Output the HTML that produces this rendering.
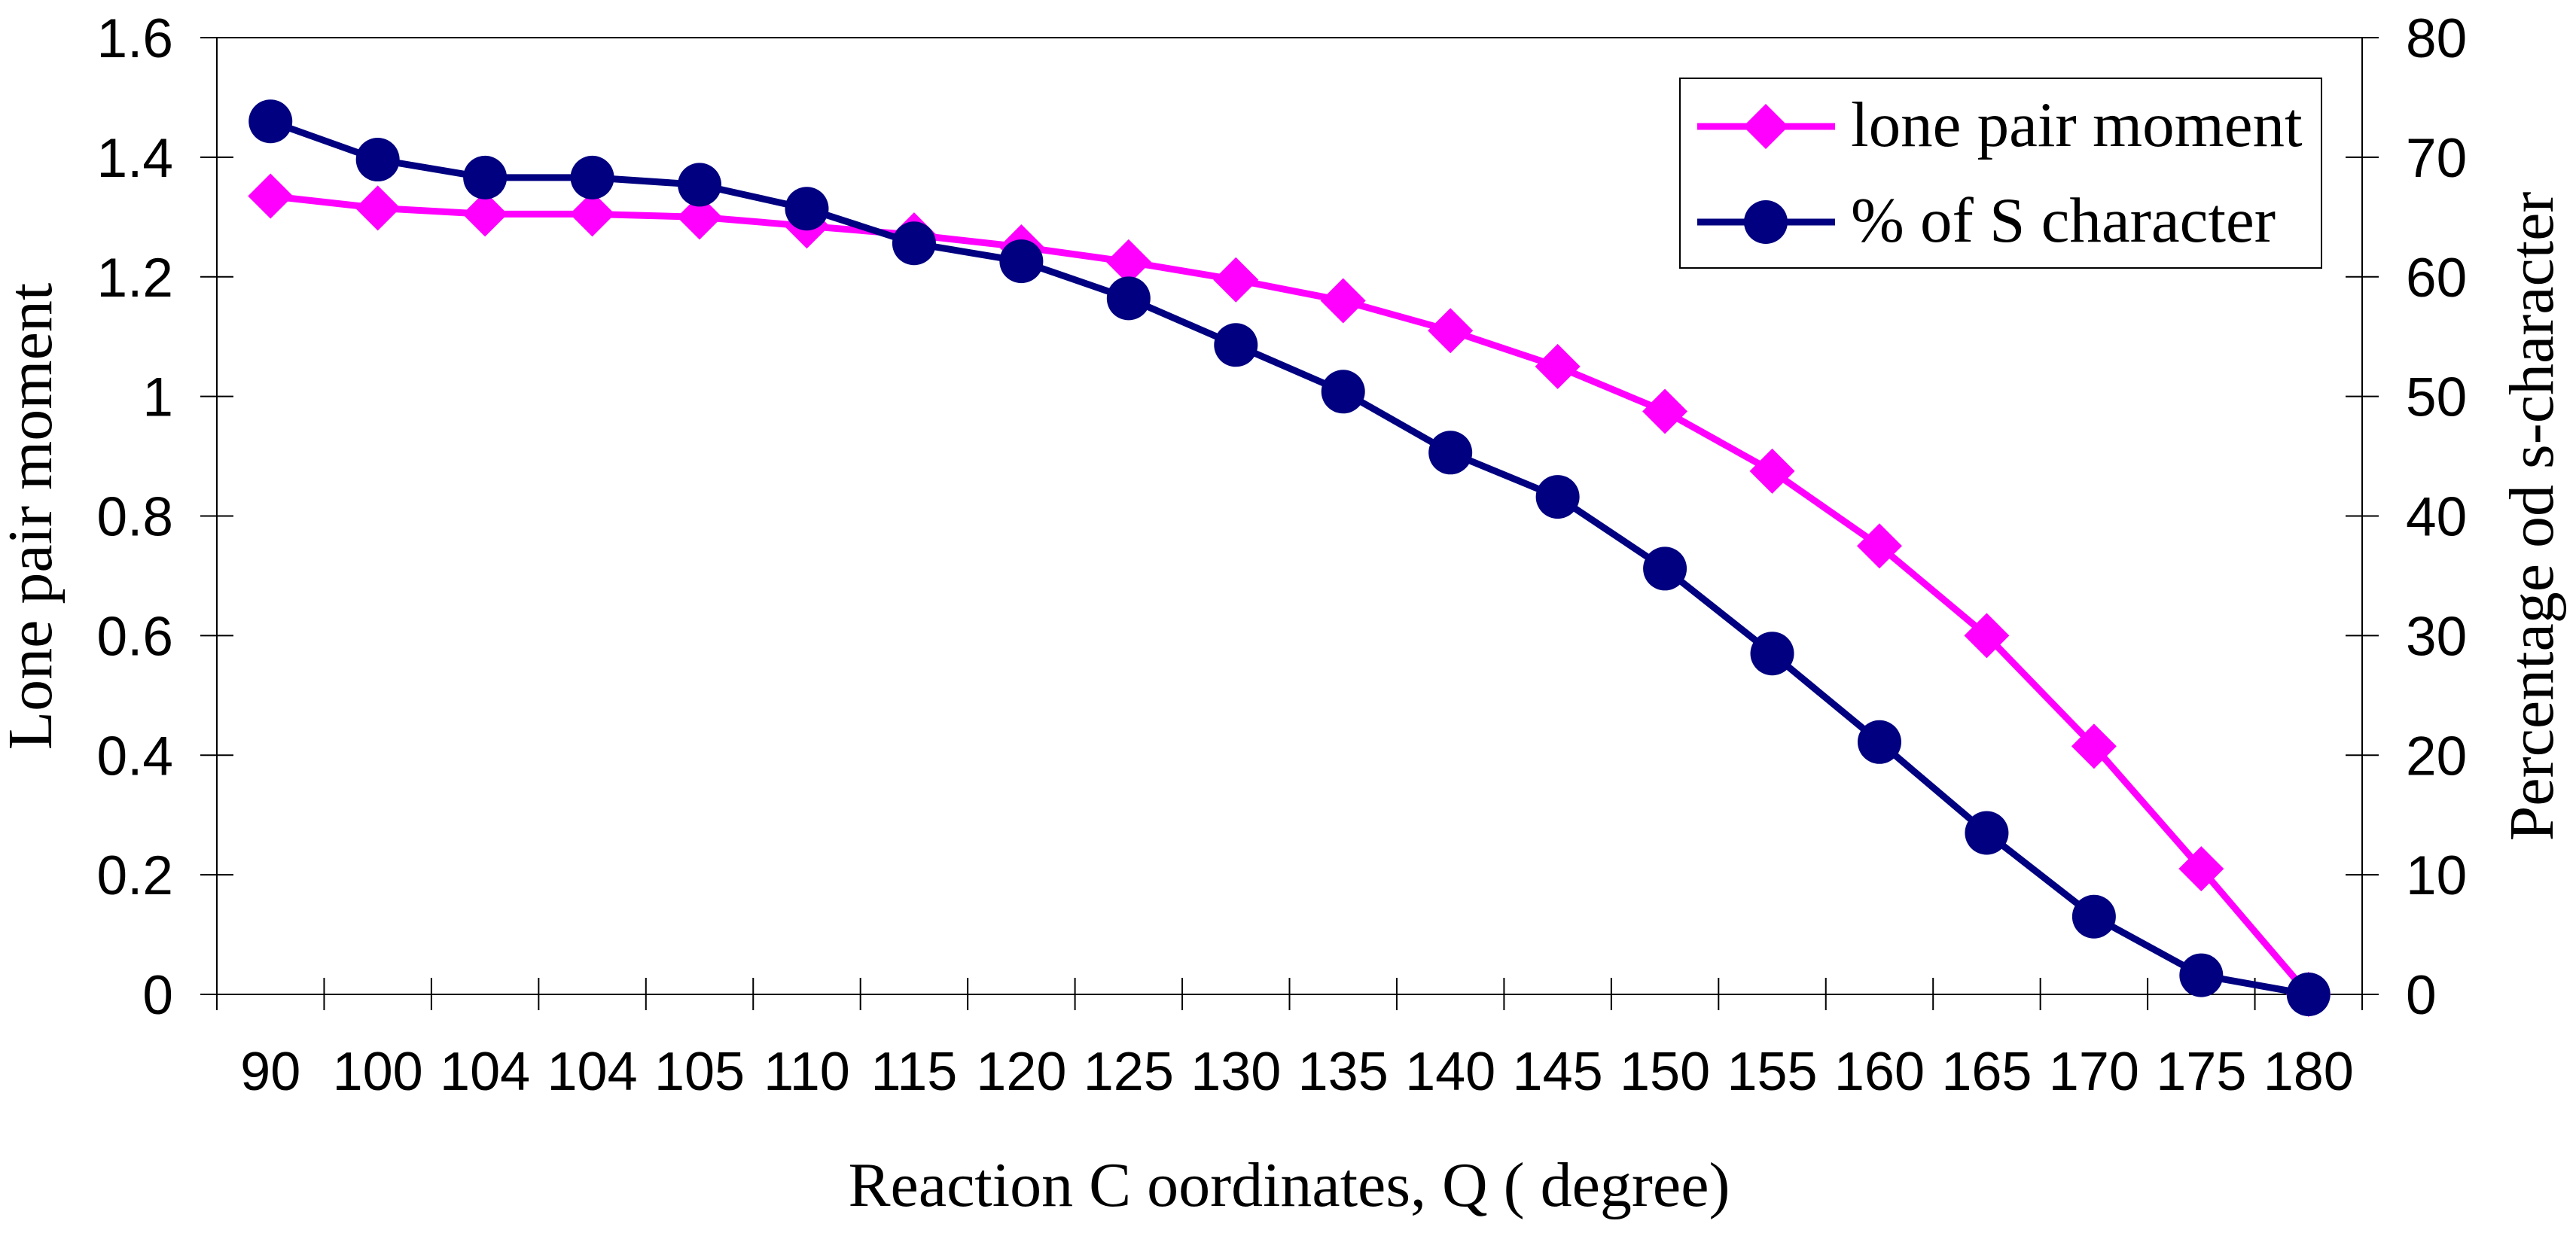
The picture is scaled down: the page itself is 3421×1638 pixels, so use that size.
<!DOCTYPE html>
<html><head><meta charset="utf-8">
<style>
html,body{margin:0;padding:0;background:#fff;}
svg{display:block;}
</style></head>
<body>
<svg id="chart" xmlns="http://www.w3.org/2000/svg" width="3421" height="1638" viewBox="0 0 3421 1638">
<rect x="0" y="0" width="3421" height="1638" fill="#fff"/>
<g id="axes"></g>
<g id="series"></g>
<text transform="translate(68,686) rotate(-90)" text-anchor="middle" font-family="Liberation Serif, serif" font-size="84">Lone pair moment</text>
<text transform="translate(3390,686) rotate(-90)" text-anchor="middle" font-family="Liberation Serif, serif" font-size="84">Percentage od s-character</text>
<text x="1712" y="1602" text-anchor="middle" font-family="Liberation Serif, serif" font-size="84">Reaction C oordinates, Q ( degree)</text>
<g>
<rect x="2231" y="104" width="852" height="252" fill="#fff" stroke="#000" stroke-width="2"/>
<g>
<line x1="2254" y1="168" x2="2437" y2="168" stroke="#ff00ff" stroke-width="9"/>
<polygon points="2345,138 2375,168 2345,198 2315,168" fill="#ff00ff"/>
<text x="2458" y="194" font-family="Liberation Serif, serif" font-size="85">lone pair moment</text>
</g>
<g>
<line x1="2254" y1="295" x2="2437" y2="295" stroke="#000080" stroke-width="9"/>
<circle cx="2345" cy="295" r="29" fill="#000080"/>
<text x="2458" y="321" font-family="Liberation Serif, serif" font-size="85">% of S character</text>
</g>
</g>
</svg>
<script>
const categories = ["90","100","104","104","105","110","115","120","125","130","135","140","145","150","155","160","165","170","175","180"];
const lonePair = [1.335,1.315,1.305,1.305,1.3,1.285,1.27,1.25,1.225,1.195,1.16,1.11,1.05,0.975,0.875,0.75,0.6,0.415,0.21,0];
const sChar = [73,69.8,68.3,68.3,67.7,65.7,62.8,61.3,58.2,54.3,50.4,45.3,41.6,35.6,28.5,21.1,13.5,6.5,1.6,0];
const yTicks = ["0","0.2","0.4","0.6","0.8","1","1.2","1.4","1.6"];
const y2Ticks = ["0","10","20","30","40","50","60","70","80"];

const NS = "http://www.w3.org/2000/svg";
const L = 288, R = 3137, T = 50, B = 1321;
const n = categories.length;
const cw = (R - L) / n;
function xPos(i){ return L + cw * (i + 0.5); }
function yLeft(v){ return B - (v / 1.6) * (B - T); }
function yRight(v){ return B - (v / 80) * (B - T); }
function mk(tag, attrs, parent){
  const e = document.createElementNS(NS, tag);
  for (const k in attrs) e.setAttribute(k, attrs[k]);
  parent.appendChild(e);
  return e;
}
const axes = document.getElementById('axes');
const series = document.getElementById('series');

const frame = mk('rect', {x:L, y:T, width:R-L, height:B-T, fill:'none', stroke:'#000', 'stroke-width':2}, axes);



yTicks.forEach((t, i) => {
  const v = parseFloat(t);
  const y = yLeft(v);
  const tk = mk('line', {x1:L-22, x2:L+22, y1:y, y2:y, stroke:'#000', 'stroke-width':2}, axes);
  
  
  const lb = mk('text', {x:230, y:y+26, 'text-anchor':'end', 'font-family':'Liberation Sans, sans-serif', 'font-size':73}, axes);
  lb.textContent = t;
  
  
});
y2Ticks.forEach((t, i) => {
  const v = parseFloat(t);
  const y = yRight(v);
  const tk = mk('line', {x1:R-22, x2:R+22, y1:y, y2:y, stroke:'#000', 'stroke-width':2}, axes);
  
  
  const lb = mk('text', {x:3195, y:y+26, 'text-anchor':'start', 'font-family':'Liberation Sans, sans-serif', 'font-size':73}, axes);
  lb.textContent = t;
  
  
});
for (let i = 0; i <= n; i++) {
  const x = L + cw * i;
  const tk = mk('line', {x1:x, x2:x, y1:B-22, y2:B+21, stroke:'#000', 'stroke-width':2}, axes);
  
  
}
categories.forEach((c, i) => {
  const lb = mk('text', {x:xPos(i), y:1448, 'text-anchor':'middle', 'font-family':'Liberation Sans, sans-serif', 'font-size':72}, axes);
  lb.textContent = c;
  
  
});

// lone pair series
const lpPts = lonePair.map((v, i) => xPos(i) + ',' + yLeft(v)).join(' ');
const lpLine = mk('polyline', {points:lpPts, fill:'none', stroke:'#ff00ff', 'stroke-width':9, 'stroke-linejoin':'round'}, series);


lonePair.forEach((v, i) => {
  const cx = xPos(i), cy = yLeft(v);
  const d = mk('polygon', {points:`${cx},${cy-30} ${cx+30},${cy} ${cx},${cy+30} ${cx-30},${cy}`, fill:'#ff00ff'}, series);
  
  
});
// s character series
const sPts = sChar.map((v, i) => xPos(i) + ',' + yRight(v)).join(' ');
const sLine = mk('polyline', {points:sPts, fill:'none', stroke:'#000080', 'stroke-width':9, 'stroke-linejoin':'round'}, series);


sChar.forEach((v, i) => {
  const c = mk('circle', {cx:xPos(i), cy:yRight(v), r:29, fill:'#000080'}, series);
  
  
});
</script>
</body></html>
